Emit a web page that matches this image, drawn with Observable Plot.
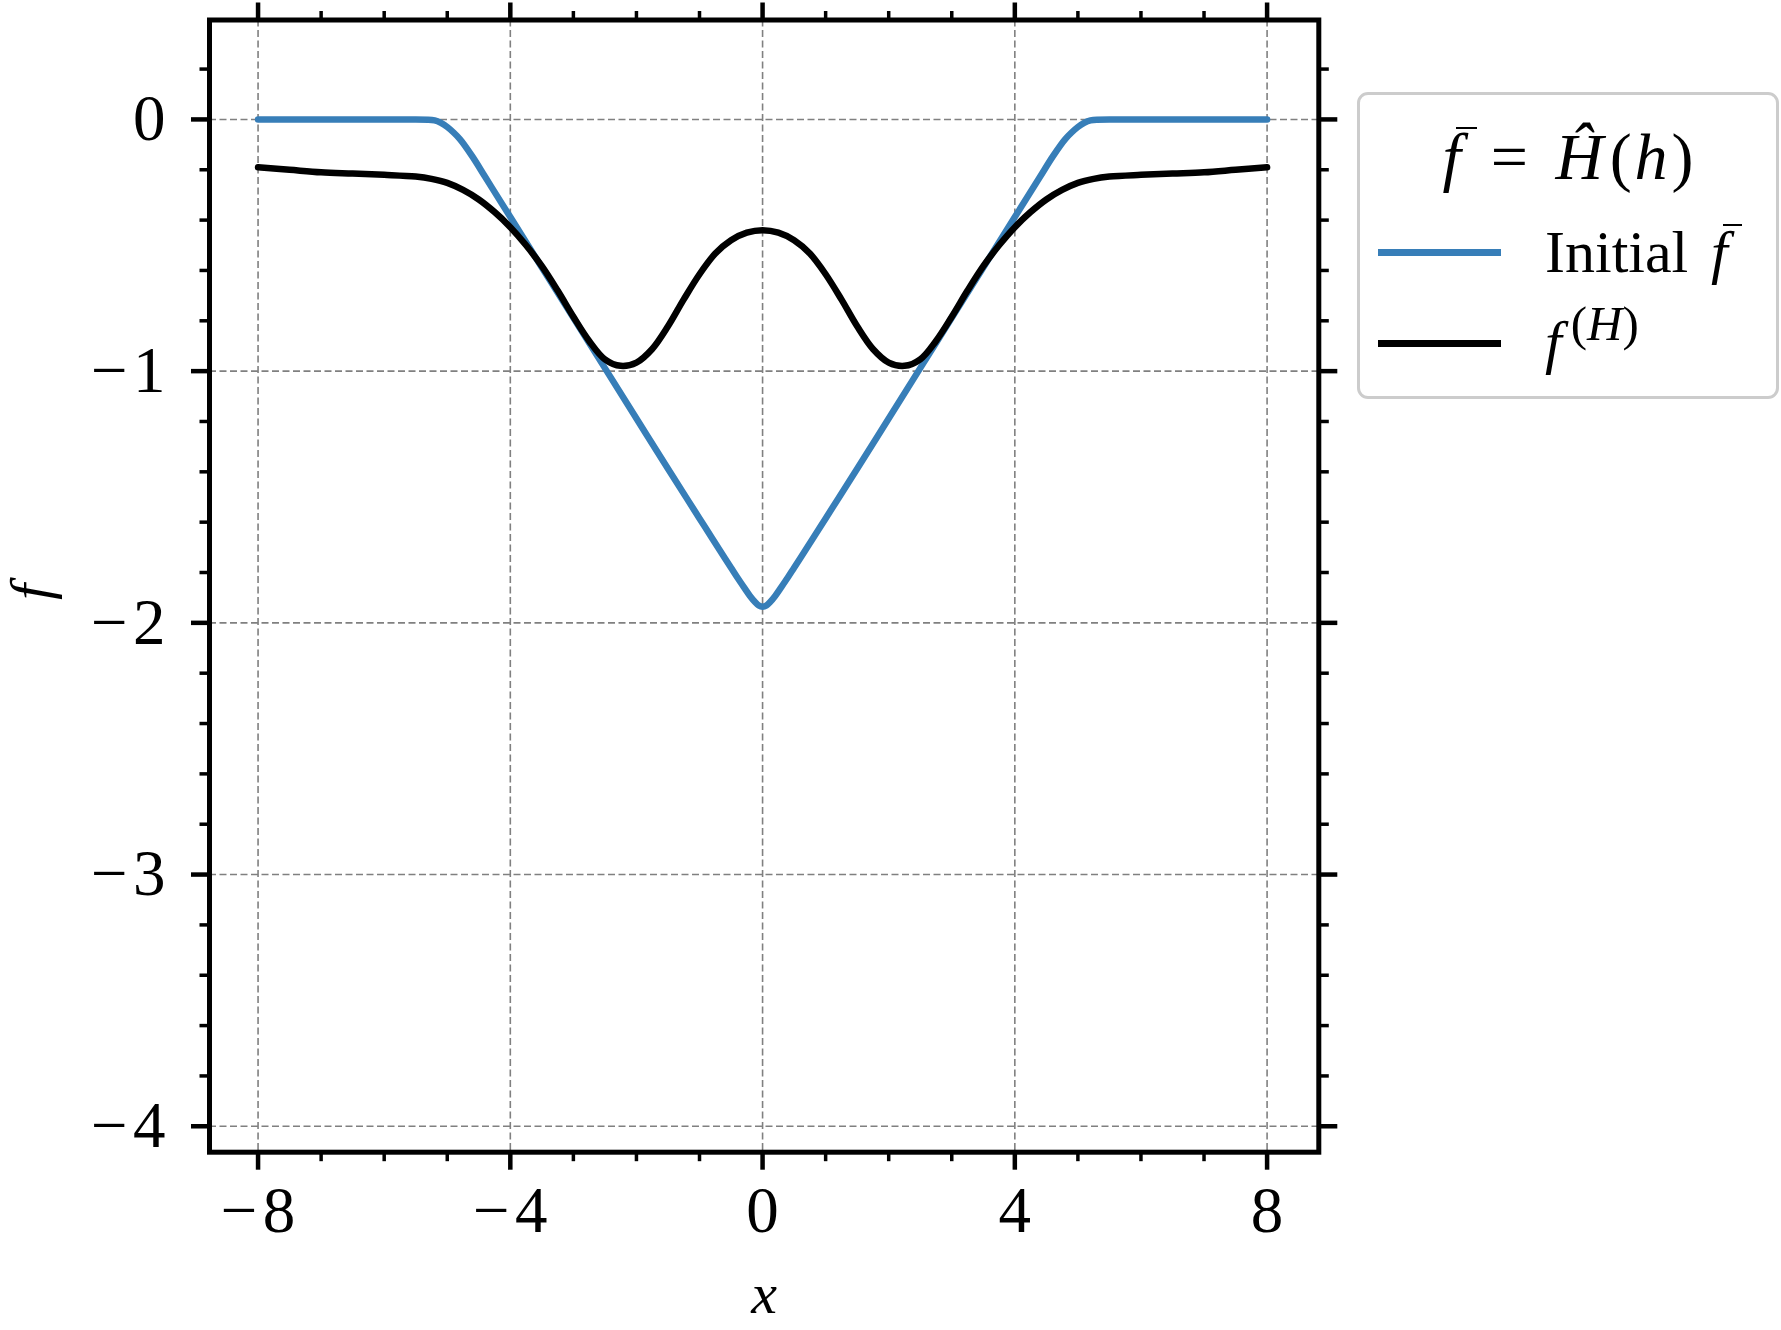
<!DOCTYPE html>
<html>
<head>
<meta charset="utf-8">
<script src="https://cdn.jsdelivr.net/npm/d3@7"></script>
<script src="https://cdn.jsdelivr.net/npm/@observablehq/plot@0.6"></script>
<style>
  html, body { margin: 0; padding: 0; background: #fff; }
  body { width: 1781px; height: 1330px; overflow: hidden; position: relative; font-family: "Liberation Serif", serif; }
  #chart { position: absolute; left: 0; top: 0; }
  #legend {
    position: absolute; left: 1357px; top: 92px; width: 416px; height: 301px;
    border: 3px solid #cccccc; border-radius: 11px; background: #fff;
  }
  #legend .title {
    position: absolute; left: 0; width: 100%; text-align: center;
    font-size: 66px; line-height: 65px; top: 29px; white-space: nowrap;
  }
  #legend .sw { position: absolute; left: 18px; width: 123px; height: 7px; }
  #legend .lab { position: absolute; left: 185px; font-size: 60px; line-height: 60px; white-space: nowrap; }
  .ob { position: relative; display: inline-block; font-style: italic; }
  .ob::before { content: ""; position: absolute; left: 0.2em; width: 0.32em; top: 0.04em; border-top: 2.5px solid #000; }
  i { font-style: italic; }
  .eq { display: inline-block; margin: 0 0.42em 0 0.45em; }
  .pl { display: inline-block; margin-left: 0.1em; }
  .hh { display: inline-block; margin: 0 0.06em 0 0.04em; }
  .gapf { margin-left: 0.38em; }
  .sup { position: relative; top: -22px; font-size: 49px; margin-left: 9px; }
</style>
</head>
<body>
<div id="chart"></div>
<div id="legend">
  <div class="title"><span class="ob">f</span><span class="eq">=</span><i>Ĥ</i><span class="pl">(</span><i class="hh">h</i>)</div>
  <div class="sw" id="sw1" style="top:154px;"></div>
  <div class="lab" style="top:127px;">Initial<span class="ob gapf">f</span></div>
  <div class="sw" id="sw2" style="top:245px;"></div>
  <div class="lab" style="top:217px;"><i>f</i><span class="sup">(<i>H</i>)</span></div>
</div>
<script>
// ---- data ----
const xInitial = [-8, -7, -6, -5.5, -5.3, -5.2, -5.1, -5.0, -4.9, -4.8, -4.6, -4.4, -4, -3.5, -3, -2.5, -2, -1.5, -1, -0.8, -0.6, -0.5, -0.4, -0.3, -0.2, -0.12, -0.06, 0,
                  0.06, 0.12, 0.2, 0.3, 0.4, 0.5, 0.6, 0.8, 1, 1.5, 2, 2.5, 3, 3.5, 4, 4.4, 4.6, 4.8, 4.9, 5.0, 5.1, 5.2, 5.3, 5.5, 6, 7, 8];
const fInitial = [0, 0, 0, 0, -0.001, -0.004, -0.014, -0.030, -0.052, -0.078, -0.148, -0.228, -0.388, -0.588, -0.788, -0.988, -1.188, -1.388, -1.585, -1.664, -1.742, -1.781, -1.820, -1.857, -1.893, -1.917, -1.931, -1.936,
                  -1.931, -1.917, -1.893, -1.857, -1.820, -1.781, -1.742, -1.664, -1.585, -1.388, -1.188, -0.988, -0.788, -0.588, -0.388, -0.228, -0.148, -0.078, -0.052, -0.030, -0.014, -0.004, -0.001, 0, 0, 0, 0];

const xH = [-8, -7.5, -7, -6.5, -6, -5.5, -5.25, -5, -4.75, -4.5, -4.25, -4, -3.75, -3.5, -3.25, -3, -2.75, -2.5, -2.25, -2, -1.75, -1.5, -1.25, -1, -0.75, -0.5, -0.25, 0,
            0.25, 0.5, 0.75, 1, 1.25, 1.5, 1.75, 2, 2.25, 2.5, 2.75, 3, 3.25, 3.5, 3.75, 4, 4.25, 4.5, 4.75, 5, 5.25, 5.5, 6, 6.5, 7, 7.5, 8];
const fH = [-0.190, -0.200, -0.210, -0.215, -0.220, -0.227, -0.236, -0.252, -0.280, -0.318, -0.368, -0.428, -0.500, -0.583, -0.680, -0.784, -0.880, -0.953, -0.979, -0.966, -0.912, -0.822, -0.715, -0.615, -0.533, -0.480, -0.450, -0.440,
            -0.450, -0.480, -0.533, -0.615, -0.715, -0.822, -0.912, -0.966, -0.979, -0.953, -0.880, -0.784, -0.680, -0.583, -0.500, -0.428, -0.368, -0.318, -0.280, -0.252, -0.236, -0.227, -0.220, -0.215, -0.210, -0.200, -0.190];

const xMajor = [-8, -4, 0, 4, 8];
const xMinor = [-7, -6, -5, -3, -2, -1, 1, 2, 3, 5, 6, 7];
const yMajor = [-4, -3, -2, -1, 0];
const yMinor = [-3.8, -3.6, -3.4, -3.2, -2.8, -2.6, -2.4, -2.2, -1.8, -1.6, -1.4, -1.2, -0.8, -0.6, -0.4, -0.2, 0.2];

const blue = "#377eb8";
document.getElementById("sw1").style.background = blue;
document.getElementById("sw2").style.background = "#000";

const initialData = xInitial.map((x, i) => ({x, y: fInitial[i]}));
const hData = xH.map((x, i) => ({x, y: fH[i]}));

const fmt = d => (d < 0 ? "\u2212\u200A" + Math.abs(d) : String(d));
const blank = () => "";
const gridStyle = {stroke: "#808080", strokeOpacity: 1, strokeWidth: 1.6, strokeDasharray: "7,3.5"};

const chart = Plot.plot({
  width: 1781,
  height: 1330,
  marginLeft: 209,
  marginRight: 462.7,
  marginTop: 19.5,
  marginBottom: 178.3,
  x: {domain: [-8.77, 8.82]},
  y: {domain: [-4.103, 0.395]},
  style: {fontFamily: "Liberation Serif", background: "white", color: "black", overflow: "visible"},
  marks: [
    Plot.gridX({...gridStyle, ticks: xMajor}),
    Plot.gridY({...gridStyle, ticks: yMajor}),
    Plot.line(initialData, {x: "x", y: "y", stroke: blue, strokeWidth: 6.5, curve: "monotone-x"}),
    Plot.line(hData, {x: "x", y: "y", stroke: "black", strokeWidth: 6.5, curve: "catmull-rom"}),
    Plot.frame({stroke: "black", strokeWidth: 5}),
    // bottom
    Plot.axisX({anchor: "bottom", ticks: xMajor, tickSize: 18, strokeWidth: 4.5, tickPadding: 16, tickFormat: fmt, label: null, fontSize: 65}),
    Plot.axisX({anchor: "bottom", ticks: xMinor, tickSize: 9.5, strokeWidth: 3.5, tickFormat: blank, label: null}),
    // top
    Plot.axisX({anchor: "top", ticks: xMajor, tickSize: 18, strokeWidth: 4.5, tickFormat: blank, label: null}),
    Plot.axisX({anchor: "top", ticks: xMinor, tickSize: 9.5, strokeWidth: 3.5, tickFormat: blank, label: null}),
    // left
    Plot.axisY({anchor: "left", ticks: yMajor, tickSize: 18, strokeWidth: 4.5, tickPadding: 26, tickFormat: fmt, label: null, fontSize: 65}),
    Plot.axisY({anchor: "left", ticks: yMinor, tickSize: 9.5, strokeWidth: 3.5, tickFormat: blank, label: null}),
    // right
    Plot.axisY({anchor: "right", ticks: yMajor, tickSize: 18, strokeWidth: 4.5, tickFormat: blank, label: null}),
    Plot.axisY({anchor: "right", ticks: yMinor, tickSize: 9.5, strokeWidth: 3.5, tickFormat: blank, label: null}),
    // axis labels
    Plot.text(["x"], {frameAnchor: "bottom", dy: 142.5, fontSize: 58, fontStyle: "italic", lineAnchor: "middle", fill: "black"}),
    Plot.text(["f"], {frameAnchor: "left", dx: -178, dy: 14, rotate: -90, fontSize: 58, fontStyle: "italic", lineAnchor: "middle", fill: "black"})
  ]
});
document.getElementById("chart").appendChild(chart);
</script>
</body>
</html>
